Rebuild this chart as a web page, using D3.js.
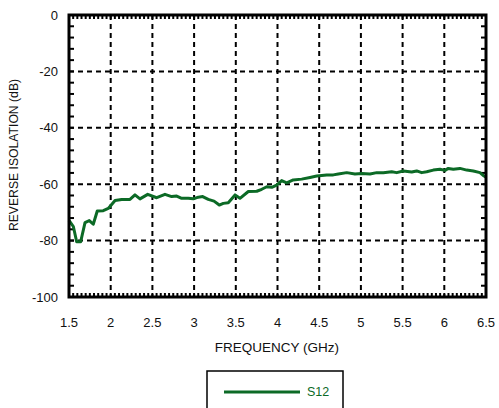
<!DOCTYPE html>
<html lang="en">
<head>
    <meta charset="UTF-8">
    <title>Reverse Isolation</title>
    <style>
        body {
            margin: 0;
            padding: 0;
            background: #fff;
            font-family: "Liberation Sans", Arial, sans-serif;
        }
        .grid line {
            stroke: #000;
            stroke-width: 2px;
            stroke-dasharray: 5,4;
        }
        .tick-label {
            font-size: 13px;
            fill: #111;
        }
        .axis-title {
            font-size: 13.5px;
            fill: #111;
        }
    </style>
</head>
<body>
    <div id="chart"></div>

    <script src="https://d3js.org/d3.v7.min.js"></script>
    <script>
        // S12 trace (GHz, dB)
        const freq = [1.5, 1.552, 1.592, 1.64, 1.692, 1.743, 1.791, 1.839, 1.911, 1.971,
            2.052, 2.132, 2.231, 2.291, 2.351, 2.444, 2.552, 2.651, 2.731, 2.791,
            2.851, 2.93, 2.99, 3.05, 3.103, 3.17, 3.239, 3.302, 3.35, 3.41,
            3.491, 3.55, 3.65, 3.751, 3.811, 3.871, 3.931, 3.99, 4.05, 4.11,
            4.189, 4.29, 4.39, 4.47, 4.59, 4.669, 4.729, 4.83, 4.929, 5.01,
            5.109, 5.19, 5.269, 5.369, 5.429, 5.508, 5.609, 5.669, 5.729, 5.789,
            5.868, 5.948, 6.008, 6.048, 6.108, 6.188, 6.269, 6.348, 6.428, 6.476, 6.5];
        const s12 = [-72.8, -75, -80.4, -80.4, -73.6, -72.9, -74.2, -69.5, -69.4, -68.6,
            -65.8, -65.4, -65.4, -63.8, -65.2, -63.6, -64.8, -63.6, -64.4, -64.2,
            -65, -65, -65.2, -64.6, -64.4, -65.4, -66, -67.4, -66.8, -66.6,
            -63.8, -65, -62.6, -62.5, -61.8, -60.9, -61.1, -60.3, -58.7, -59.5,
            -58.5, -58.2, -57.6, -57.1, -56.7, -56.7, -56.4, -55.9, -56.4, -56.2,
            -56.4, -55.9, -55.9, -55.6, -55.9, -55.3, -55.7, -55.3, -55.9, -55.6,
            -55, -54.7, -55.1, -54.4, -54.7, -54.4, -55, -55.3, -55.9, -57.1, -57.5];

        const xTicks = [1.5, 2, 2.5, 3, 3.5, 4, 4.5, 5, 5.5, 6, 6.5];
        const yTicks = [0, -20, -40, -60, -80, -100];
        const seriesName = "S12";

        const W = 499, H = 408;
        const plot = { left: 69, right: 486, top: 15, bottom: 297 };
        const green = "#0c6a26";

        const svg = d3.select("#chart").append("svg")
            .attr("width", W)
            .attr("height", H);

        const x = d3.scaleLinear().domain([1.5, 6.5]).range([plot.left, plot.right]);
        const y = d3.scaleLinear().domain([-100, 0]).range([plot.bottom, plot.top]);

        // dashed grid
        const grid = svg.append("g").attr("class", "grid");
        grid.selectAll(".vx")
            .data(xTicks.slice(1, -1))
            .enter().append("line")
            .attr("x1", d => x(d)).attr("x2", d => x(d))
            .attr("y1", plot.top).attr("y2", plot.bottom);
        grid.selectAll(".hy")
            .data(yTicks.slice(1, -1))
            .enter().append("line")
            .attr("x1", plot.left).attr("x2", plot.right)
            .attr("y1", d => y(d)).attr("y2", d => y(d));

        // minor ticks on every side
        const xMinor = d3.range(1.5, 6.5001, 0.05);
        const yMinor = d3.range(-100, 0.001, 4);
        const ticks = svg.append("g").attr("stroke", "#000").attr("stroke-width", 2);
        ticks.selectAll(".tb")
            .data(xMinor)
            .enter().append("line")
            .attr("x1", d => x(d)).attr("x2", d => x(d))
            .attr("y1", plot.bottom).attr("y2", plot.bottom - 4);
        ticks.selectAll(".tt")
            .data(xMinor)
            .enter().append("line")
            .attr("x1", d => x(d)).attr("x2", d => x(d))
            .attr("y1", plot.top).attr("y2", plot.top + 4);
        ticks.selectAll(".tl")
            .data(yMinor)
            .enter().append("line")
            .attr("x1", plot.left).attr("x2", plot.left + 5)
            .attr("y1", d => y(d)).attr("y2", d => y(d));
        ticks.selectAll(".tr")
            .data(yMinor)
            .enter().append("line")
            .attr("x1", plot.right).attr("x2", plot.right - 5)
            .attr("y1", d => y(d)).attr("y2", d => y(d));

        // data line
        const pts = freq.map((f, i) => [f, s12[i]]);
        const line = d3.line()
            .x(d => x(d[0]))
            .y(d => y(d[1]));
        svg.append("path")
            .datum(pts)
            .attr("fill", "none")
            .attr("stroke", green)
            .attr("stroke-width", 3)
            .attr("stroke-linejoin", "round")
            .attr("d", line);

        // frame
        svg.append("rect")
            .attr("x", plot.left).attr("y", plot.top)
            .attr("width", plot.right - plot.left)
            .attr("height", plot.bottom - plot.top)
            .attr("fill", "none")
            .attr("stroke", "#000")
            .attr("stroke-width", 3);

        // tick labels
        svg.selectAll(".xl")
            .data(xTicks)
            .enter().append("text")
            .attr("class", "tick-label")
            .attr("x", d => x(d))
            .attr("y", 327)
            .attr("text-anchor", "middle")
            .text(d => d);
        svg.selectAll(".yl")
            .data(yTicks)
            .enter().append("text")
            .attr("class", "tick-label")
            .attr("x", 58)
            .attr("y", d => y(d) + 4.5)
            .attr("text-anchor", "end")
            .text(d => d);

        // axis titles
        svg.append("text")
            .attr("class", "axis-title")
            .attr("x", 277)
            .attr("y", 352)
            .attr("text-anchor", "middle")
            .text("FREQUENCY (GHz)");
        svg.append("text")
            .attr("class", "axis-title")
            .attr("font-size", "12.2px")
            .style("font-size", "12.2px")
            .attr("transform", "translate(18,155) rotate(-90)")
            .attr("text-anchor", "middle")
            .text("REVERSE ISOLATION (dB)");

        // legend
        const lg = svg.append("g");
        lg.append("rect")
            .attr("x", 207).attr("y", 371)
            .attr("width", 136).attr("height", 45)
            .attr("fill", "#fff")
            .attr("stroke", "#000")
            .attr("stroke-width", 1.5);
        lg.append("line")
            .attr("x1", 224).attr("x2", 300)
            .attr("y1", 392).attr("y2", 392)
            .attr("stroke", green)
            .attr("stroke-width", 3);
        lg.append("text")
            .attr("x", 307).attr("y", 396)
            .attr("font-size", 12.5)
            .attr("fill", green)
            .text(seriesName);
    </script>
</body>
</html>
